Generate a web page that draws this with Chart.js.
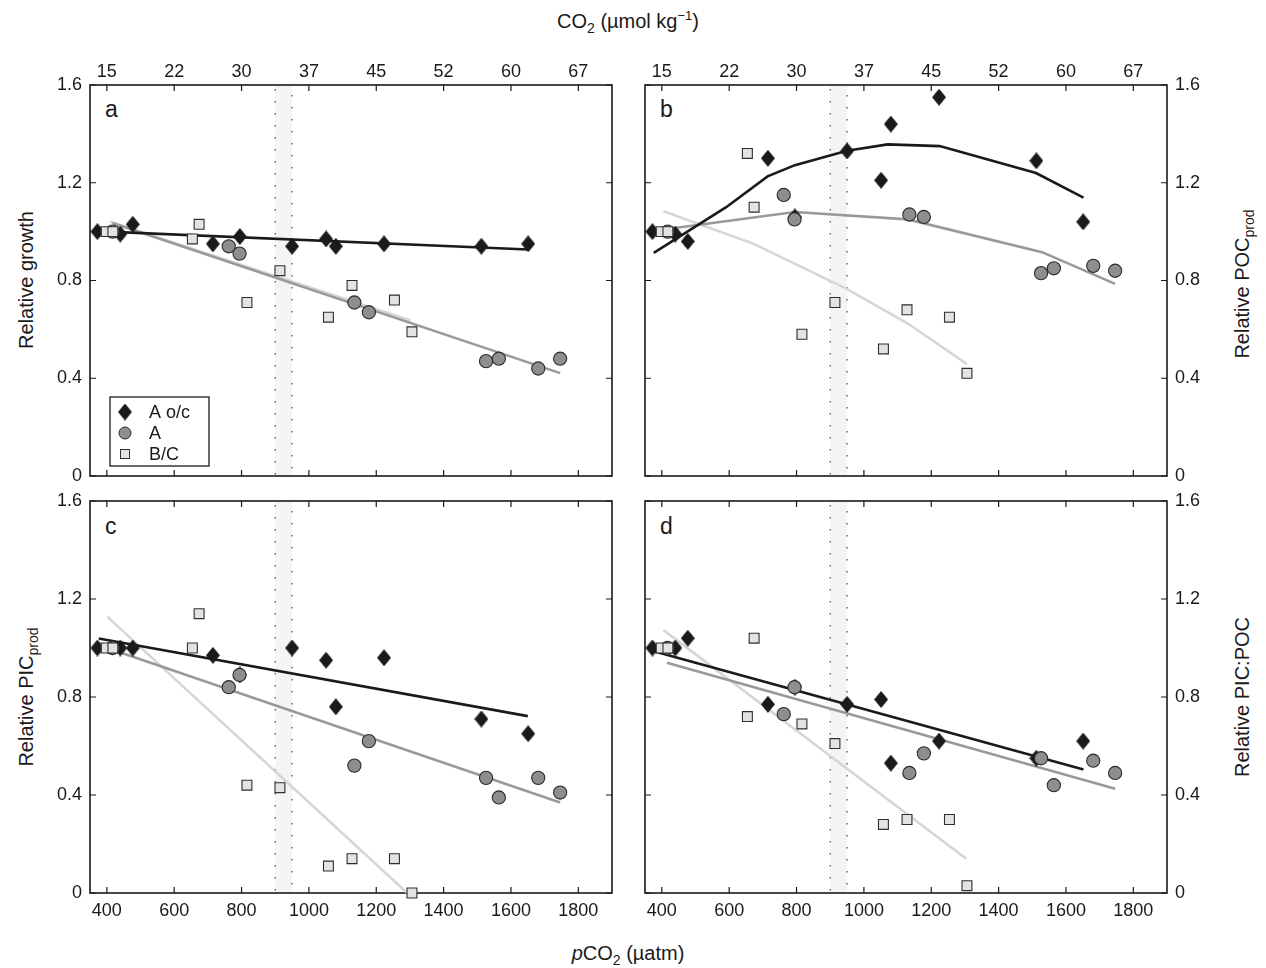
<!DOCTYPE html>
<html><head><meta charset="utf-8">
<script src="https://cdn.jsdelivr.net/npm/chart.js@4.4.0/dist/chart.umd.min.js"></script>
<style>
html,body{margin:0;padding:0;background:#fff}
body{width:1266px;height:968px;position:relative;overflow:hidden;font-family:"Liberation Sans",Arial,Helvetica,sans-serif;color:#1a1a1a}
canvas{position:absolute}
.t{position:absolute;white-space:nowrap;font-size:20px;line-height:1}
.c{transform:translate(-50%,-50%)}
.r{transform:translate(-50%,-50%) rotate(-90deg)}
.t sub{font-size:14px;vertical-align:-5px}
.t sup{font-size:13px;vertical-align:8px}
.lt{position:absolute;font-size:23px;line-height:1;transform:translateY(-50%)}
</style></head><body>
<div class="t c" style="left:628px;top:22px">CO<sub>2</sub> (µmol kg<sup>−1</sup>)</div>
<div class="t c" style="left:628px;top:955px"><i>p</i>CO<sub>2</sub> (µatm)</div>
<div class="t r" style="left:26px;top:280px">Relative growth</div>
<div class="t r" style="left:28px;top:697px">Relative PIC<sub>prod</sub></div>
<div class="t r" style="left:1244px;top:284px">Relative POC<sub>prod</sub></div>
<div class="t r" style="left:1242px;top:697px">Relative PIC:POC</div>
<div class="lt" style="left:105px;top:109px">a</div>
<div class="lt" style="left:660px;top:109px">b</div>
<div class="lt" style="left:105px;top:526px">c</div>
<div class="lt" style="left:660px;top:526px">d</div>
<script>
// ---- tick labels ----
const pco2Ticks = [400, 600, 800, 1000, 1200, 1400, 1600, 1800];
const co2Labels = ['15', '22', '30', '37', '45', '52', '60', '67'];
const yTicks = [0, 0.4, 0.8, 1.2, 1.6];
const yTickLabels = ['0', '0.4', '0.8', '1.2', '1.6'];
const highCO2Band = [900, 950];
const seriesNames = ['A o/c', 'A', 'B/C'];

// ---- pCO2 of each treatment (x) ----
const aocX = [372, 440, 477, 715, 795, 950, 1051, 1080, 1223, 1512, 1651];
const aX   = [417, 762, 794, 1135, 1178, 1526, 1564, 1681, 1746];
const bcX  = [398, 418, 654, 674, 816, 914, 1058, 1128, 1254, 1306];

// ---- panel a: relative growth ----
const growthAoc = [1.0, 0.99, 1.03, 0.95, 0.98, 0.94, 0.97, 0.94, 0.95, 0.94, 0.95];
const growthA   = [1.0, 0.94, 0.91, 0.71, 0.67, 0.47, 0.48, 0.44, 0.48];
const growthBC  = [1.0, 1.0, 0.97, 1.03, 0.71, 0.84, 0.65, 0.78, 0.72, 0.59];
const growthFitAocX = [400, 1650], growthFitAocY = [1.0, 0.927];
const growthFitAX = [417, 1746],  growthFitAY = [1.035, 0.421];
const growthFitBCX = [410, 1302], growthFitBCY = [1.04, 0.636];

// ---- panel b: relative POC production ----
const pocAoc = [1.0, 0.99, 0.96, 1.30, 1.06, 1.33, 1.21, 1.44, 1.55, 1.29, 1.04];
const pocA   = [1.0, 1.15, 1.05, 1.07, 1.06, 0.83, 0.85, 0.86, 0.84];
const pocBC  = [1.0, 1.0, 1.32, 1.10, 0.58, 0.71, 0.52, 0.68, 0.65, 0.42];
const pocFitAocX = [376, 591, 714, 795, 950, 1071, 1225, 1511, 1652];
const pocFitAocY = [0.913, 1.10, 1.226, 1.272, 1.331, 1.357, 1.350, 1.24, 1.139];
const pocFitAX = [405, 795, 1130, 1529, 1746];
const pocFitAY = [1.009, 1.08, 1.05, 0.916, 0.786];
const pocFitBCX = [405, 673, 816, 949, 1133, 1306];
const pocFitBCY = [1.083, 0.95, 0.855, 0.766, 0.622, 0.458];

// ---- panel c: relative PIC production ----
const picAoc = [1.0, 1.0, 1.0, 0.97, 0.89, 1.0, 0.95, 0.76, 0.96, 0.71, 0.65];
const picA   = [1.0, 0.84, 0.89, 0.52, 0.62, 0.47, 0.39, 0.47, 0.41];
const picBC  = [1.0, 1.0, 1.0, 1.14, 0.44, 0.43, 0.11, 0.14, 0.14, 0.0];
const picFitAocX = [376, 1650], picFitAocY = [1.039, 0.722];
const picFitAX = [412, 1746],   picFitAY = [0.995, 0.369];
const picFitBCX = [402, 1292],  picFitBCY = [1.127, 0.0];

// ---- panel d: relative PIC:POC ----
const ratioAoc = [1.0, 1.0, 1.04, 0.77, 0.84, 0.77, 0.79, 0.53, 0.62, 0.55, 0.62];
const ratioA   = [1.0, 0.73, 0.84, 0.49, 0.57, 0.55, 0.44, 0.54, 0.49];
const ratioBC  = [1.0, 1.0, 0.72, 1.04, 0.69, 0.61, 0.28, 0.30, 0.30, 0.03];
const ratioFitAocX = [376, 1652], ratioFitAocY = [0.987, 0.504];
const ratioFitAX = [415, 1746],   ratioFitAY = [0.94, 0.426];
const ratioFitBCX = [405, 1304],  ratioFitBCY = [1.073, 0.14];

// ---------------------------------------------------------------
const pts = (xs, ys) => xs.map((x, i) => ({x: x, y: ys[i]}));
const INK = '#1a1a1a';
const GREY = '#8e8e8e';
const LIGHT = '#e3e3e3';
const LINE_MID = '#999999';
const LINE_LIGHT = '#d6d6d6';
const TICK_FONT = {family: '"Liberation Sans", Arial, sans-serif', size: 18};

function makeDiamond(w, h) {
  const c = document.createElement('canvas');
  c.width = w; c.height = h;
  const g = c.getContext('2d');
  g.fillStyle = INK;
  g.beginPath();
  g.moveTo(w / 2, 0); g.lineTo(w, h / 2); g.lineTo(w / 2, h); g.lineTo(0, h / 2);
  g.closePath(); g.fill();
  return c;
}
const diamondImg = makeDiamond(14, 17);

const bandAndFrame = {
  id: 'bandAndFrame',
  beforeDatasetsDraw(chart) {
    const {ctx, chartArea: a, scales} = chart;
    const x0 = scales.x.getPixelForValue(highCO2Band[0]);
    const x1 = scales.x.getPixelForValue(highCO2Band[1]);
    ctx.save();
    ctx.fillStyle = '#f3f5f3';
    ctx.fillRect(x0, a.top, x1 - x0, a.bottom - a.top);
    ctx.strokeStyle = '#555';
    ctx.lineWidth = 1.3;
    ctx.setLineDash([1.4, 10.6]);
    [x0, x1].forEach((x, k) => {
      ctx.lineDashOffset = k ? -6 : 0;
      ctx.beginPath(); ctx.moveTo(x, a.top + 4); ctx.lineTo(x, a.bottom); ctx.stroke();
    });
    ctx.setLineDash([]);
    // frame
    ctx.strokeStyle = INK;
    ctx.lineWidth = 1.6;
    ctx.strokeRect(a.left, a.top, a.right - a.left, a.bottom - a.top);
    // inward ticks
    ctx.lineWidth = 1.2;
    const L = 6;
    ctx.beginPath();
    pco2Ticks.forEach(v => {
      const x = scales.x.getPixelForValue(v);
      ctx.moveTo(x, a.bottom); ctx.lineTo(x, a.bottom - L);
      ctx.moveTo(x, a.top); ctx.lineTo(x, a.top + L);
    });
    yTicks.forEach(v => {
      const y = scales.y.getPixelForValue(v);
      ctx.moveTo(a.left, y); ctx.lineTo(a.left + L, y);
      ctx.moveTo(a.right, y); ctx.lineTo(a.right - L, y);
    });
    ctx.stroke();
    ctx.restore();
  }
};

const insideLegend = {
  id: 'insideLegend',
  afterDatasetsDraw(chart, args, opts) {
    if (!opts.show) return;
    const {ctx, chartArea: a} = chart;
    const bx = a.left + 20, by = a.bottom - 79, bw = 99, bh = 69;
    ctx.save();
    ctx.fillStyle = '#fff';
    ctx.fillRect(bx, by, bw, bh);
    ctx.strokeStyle = INK; ctx.lineWidth = 1.3;
    ctx.strokeRect(bx, by, bw, bh);
    const mx = bx + 15;
    const rows = [by + 15, by + 36, by + 57];
    ctx.drawImage(diamondImg, mx - 7, rows[0] - 8.5, 14, 17);
    ctx.beginPath(); ctx.arc(mx, rows[1], 6, 0, Math.PI * 2);
    ctx.fillStyle = GREY; ctx.fill(); ctx.lineWidth = 1; ctx.strokeStyle = '#2a2a2a'; ctx.stroke();
    ctx.fillStyle = LIGHT; ctx.fillRect(mx - 4.5, rows[2] - 4.5, 9, 9);
    ctx.strokeStyle = '#333'; ctx.strokeRect(mx - 4.5, rows[2] - 4.5, 9, 9);
    ctx.fillStyle = INK;
    ctx.font = '18px "Liberation Sans", Arial, sans-serif';
    ctx.textBaseline = 'middle';
    seriesNames.forEach((s, i) => ctx.fillText(s, bx + 39, rows[i] + 1));
    ctx.restore();
  }
};

function datasets(aoc, a, bc, fit) {
  return [
    {label: seriesNames[2], data: pts(bcX, bc), pointStyle: 'rect', pointRadius: 7,
     backgroundColor: LIGHT, borderColor: '#2e2e2e', borderWidth: 1.1, order: 1, clip: false},
    {label: seriesNames[1], data: pts(aX, a), pointStyle: 'circle', pointRadius: 6.6,
     backgroundColor: GREY, borderColor: '#2a2a2a', borderWidth: 1.1, order: 2, clip: false},
    {label: seriesNames[0], data: pts(aocX, aoc), pointStyle: diamondImg, pointRadius: 8,
     backgroundColor: INK, borderWidth: 0, order: 3, clip: false},
    {label: 'fit A o/c', data: pts(fit[0], fit[1]), showLine: true, pointRadius: 0,
     borderColor: INK, borderWidth: 2.6, order: 4},
    {label: 'fit A', data: pts(fit[2], fit[3]), showLine: true, pointRadius: 0,
     borderColor: LINE_MID, borderWidth: 2.6, order: 5},
    {label: 'fit B/C', data: pts(fit[4], fit[5]), showLine: true, pointRadius: 0,
     borderColor: LINE_LIGHT, borderWidth: 2.6, order: 6}
  ];
}

function xAxis(pos, show, labels) {
  return {
    type: 'linear', position: pos, display: true, min: 350, max: 1900,
    afterBuildTicks: s => { s.ticks = pco2Ticks.map(v => ({value: v})); },
    grid: {display: false, drawTicks: false}, border: {display: false},
    ticks: {display: show, font: TICK_FONT, color: INK, padding: pos === 'top' ? 2 : 7,
            maxRotation: 0, autoSkip: false,
            callback: v => labels[pco2Ticks.indexOf(v)]},
    afterFit: s => { s.height = 50; }
  };
}
function yAxis(pos, show) {
  return {
    type: 'linear', position: pos, display: true, min: 0, max: 1.6,
    afterBuildTicks: s => { s.ticks = yTicks.map(v => ({value: v})); },
    grid: {display: false, drawTicks: false}, border: {display: false},
    ticks: {display: show, font: TICK_FONT, color: INK, padding: 8,
            callback: v => yTickLabels[yTicks.indexOf(v)]},
    afterFit: s => { s.width = 50; }
  };
}

function panel(left, top, h, sets, show, legend) {
  const c = document.createElement('canvas');
  c.width = 622; c.height = h;
  c.style.left = left + 'px'; c.style.top = top + 'px';
  c.style.width = '622px'; c.style.height = h + 'px';
  document.body.appendChild(c);
  new Chart(c, {
    type: 'scatter',
    data: {datasets: sets},
    options: {
      responsive: false, animation: false, devicePixelRatio: 1,
      layout: {padding: 0, autoPadding: false},
      plugins: {legend: {display: false}, tooltip: {enabled: false},
                insideLegend: {show: !!legend}},
      scales: {
        x: xAxis('bottom', show.bottom, pco2Ticks.map(String)),
        x2: xAxis('top', show.top, co2Labels),
        y: yAxis('left', show.left),
        y2: yAxis('right', show.right)
      }
    },
    plugins: [bandAndFrame, insideLegend]
  });
}

panel(40, 35, 491,
  datasets(growthAoc, growthA, growthBC,
    [growthFitAocX, growthFitAocY, growthFitAX, growthFitAY, growthFitBCX, growthFitBCY]),
  {top: true, bottom: false, left: true, right: false}, true);
panel(595, 35, 491,
  datasets(pocAoc, pocA, pocBC,
    [pocFitAocX, pocFitAocY, pocFitAX, pocFitAY, pocFitBCX, pocFitBCY]),
  {top: true, bottom: false, left: false, right: true}, false);
panel(40, 451, 492,
  datasets(picAoc, picA, picBC,
    [picFitAocX, picFitAocY, picFitAX, picFitAY, picFitBCX, picFitBCY]),
  {top: false, bottom: true, left: true, right: false}, false);
panel(595, 451, 492,
  datasets(ratioAoc, ratioA, ratioBC,
    [ratioFitAocX, ratioFitAocY, ratioFitAX, ratioFitAY, ratioFitBCX, ratioFitBCY]),
  {top: false, bottom: true, left: false, right: true}, false);
</script>
</body></html>
